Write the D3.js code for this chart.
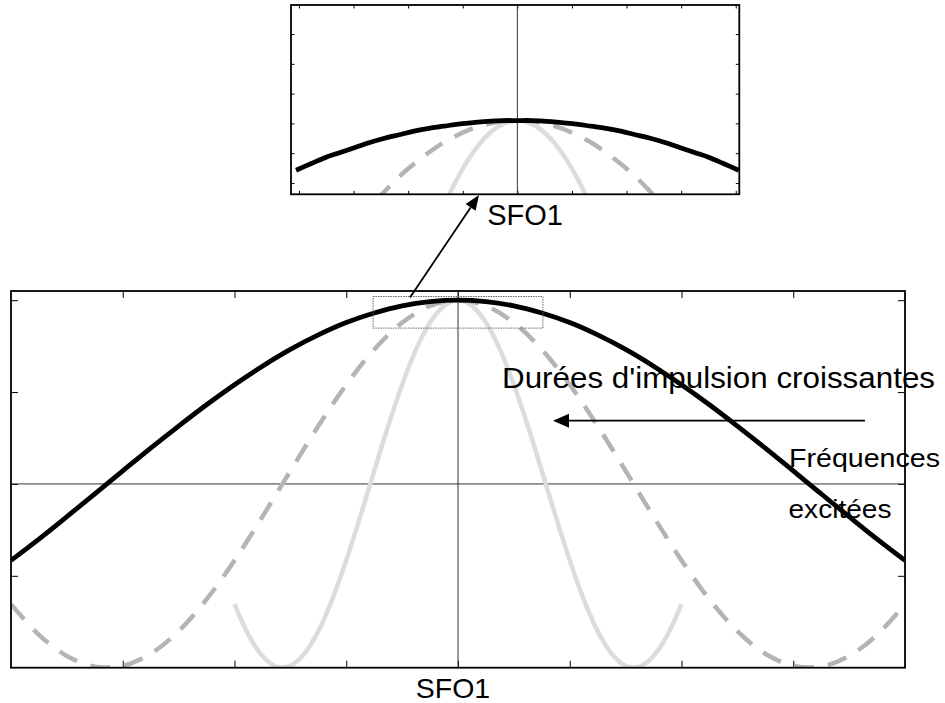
<!DOCTYPE html>
<html><head><meta charset="utf-8">
<script src="https://cdn.jsdelivr.net/npm/d3@7"></script>
<style>body{margin:0;background:#fff}svg{display:block}text{font-family:"Liberation Sans",Arial,sans-serif;fill:#000}</style>
</head><body>
<svg id="c" width="945" height="703"></svg>
<script>
// ---- main chart data (x in arbitrary frequency units around SFO1) ----
const mainX = [-4,-3.75,-3.5,-3.25,-3,-2.75,-2.5,-2.25,-2,-1.75,-1.5,-1.25,-1,-0.75,-0.5,-0.25,0,0.25,0.5,0.75,1,1.25,1.5,1.75,2,2.25,2.5,2.75,3,3.25,3.5,3.75,4];
const shortPulse = [-0.416,-0.300,-0.178,-0.054,0.071,0.195,0.315,0.431,0.540,0.641,0.732,0.811,0.878,0.930,0.969,0.992,1,0.992,0.969,0.930,0.878,0.811,0.732,0.641,0.540,0.431,0.315,0.195,0.071,-0.054,-0.178,-0.300,-0.416];
const mediumPulse = [-0.654,-0.821,-0.936,-0.994,-0.990,-0.924,-0.801,-0.628,-0.416,-0.178,0.071,0.315,0.540,0.732,0.878,0.969,1,0.969,0.878,0.732,0.540,0.315,0.071,-0.178,-0.416,-0.628,-0.801,-0.924,-0.990,-0.994,-0.936,-0.821,-0.654];
const longX = [-2,-1.875,-1.75,-1.625,-1.5,-1.375,-1.25,-1.125,-1,-0.875,-0.75,-0.625,-0.5,-0.375,-0.25,-0.125,0,0.125,0.25,0.375,0.5,0.625,0.75,0.875,1,1.125,1.25,1.375,1.5,1.625,1.75,1.875,2];
const longPulse = [-0.654,-0.821,-0.936,-0.994,-0.990,-0.924,-0.801,-0.628,-0.416,-0.178,0.071,0.315,0.540,0.732,0.878,0.969,1,0.969,0.878,0.732,0.540,0.315,0.071,-0.178,-0.416,-0.628,-0.801,-0.924,-0.990,-0.994,-0.936,-0.821,-0.654];
const mainXTicks = [-3,-2,-1,0,1,2,3];
const mainYTicks = [-0.5,0,0.5,1];
const zoomBox = {x0:-0.76, x1:0.76, y0:0.848, y1:1.02};

// ---- inset (zoom on the top) data ----
const insetX = [-0.75,-0.7,-0.65,-0.6,-0.55,-0.5,-0.45,-0.4,-0.35,-0.3,-0.25,-0.2,-0.15,-0.1,-0.05,0,0.05,0.1,0.15,0.2,0.25,0.3,0.35,0.4,0.45,0.5,0.55,0.6,0.65,0.7,0.75];
const insetShort = [0.930,0.939,0.948,0.955,0.962,0.969,0.975,0.980,0.985,0.989,0.992,0.995,0.997,0.999,1.000,1,1.000,0.999,0.997,0.995,0.992,0.989,0.985,0.980,0.975,0.969,0.962,0.955,0.948,0.939,0.930];
const insetMedium = [0.732,0.765,0.796,0.825,0.853,0.878,0.900,0.921,0.939,0.955,0.969,0.980,0.989,0.995,0.999,1,0.999,0.995,0.989,0.980,0.969,0.955,0.939,0.921,0.900,0.878,0.853,0.825,0.796,0.765,0.732];
const insetLongX = [-0.35,-0.3,-0.25,-0.2,-0.15,-0.1,-0.05,0,0.05,0.1,0.15,0.2,0.25,0.3,0.35];
const insetLong = [0.765,0.825,0.878,0.921,0.955,0.980,0.995,1,0.995,0.980,0.955,0.921,0.878,0.825,0.765];
const insetXTicks = [-0.74,-0.555,-0.37,-0.185,0,0.185,0.37,0.555,0.74];
const insetYTicks = [0.912,0.954,0.996,1.038,1.08,1.122];

const labels = {sfo:"SFO1", durees:"Durées d'impulsion croissantes", freq:"Fréquences", exc:"excitées"};

const svg = d3.select("#c");
const defs = svg.append("defs");

function drawPanel(g, x, y, xt, yt, idc, tick) {
  const [x0,x1] = x.range(), [y0,y1] = y.range();
  // inward ticks on all four sides
  g.append("g").attr("transform",`translate(0,${y0})`)
    .call(d3.axisBottom(x).tickValues(xt).tickSize(-tick).tickSizeOuter(0).tickFormat(""));
  g.append("g").attr("transform",`translate(0,${y1})`)
    .call(d3.axisTop(x).tickValues(xt).tickSize(-tick).tickSizeOuter(0).tickFormat(""));
  g.append("g").attr("transform",`translate(${x0},0)`)
    .call(d3.axisLeft(y).tickValues(yt).tickSize(-tick).tickSizeOuter(0).tickFormat(""));
  g.append("g").attr("transform",`translate(${x1},0)`)
    .call(d3.axisRight(y).tickValues(yt).tickSize(-tick).tickSizeOuter(0).tickFormat(""));
  g.selectAll(".domain").remove();
  g.selectAll(".tick line").attr("stroke","#000").attr("stroke-width",1);
  defs.append("clipPath").attr("id",idc).append("rect")
    .attr("x",x0).attr("y",y1).attr("width",x1-x0).attr("height",y0-y1);
}

function curve(g, xs, ys, x, y, style, clip) {
  const line = d3.line().x((d,i)=>x(xs[i])).y(d=>y(d)).curve(d3.curveCatmullRom);
  const p = g.append("path").attr("d", line(ys)).attr("fill","none")
    .attr("stroke",style.c).attr("stroke-width",style.w).attr("stroke-linecap","butt");
  if (style.dash) p.attr("stroke-dasharray",style.dash);
  if (clip) p.attr("clip-path",`url(#${clip})`);
}

// ---------- main chart ----------
const mx = d3.scaleLinear().domain([-4,4]).range([11,905]);
const my = d3.scaleLinear().domain([-1,1.05]).range([667.7,291]);
const gm = svg.append("g");
drawPanel(gm, mx, my, mainXTicks, mainYTicks, "clipMain", 7);
// zero lines
gm.append("line").attr("x1",mx(0)).attr("x2",mx(0)).attr("y1",my.range()[1]).attr("y2",my.range()[0]).attr("stroke","#333").attr("stroke-width",1);
gm.append("line").attr("x1",mx.range()[0]).attr("x2",mx.range()[1]).attr("y1",my(0)).attr("y2",my(0)).attr("stroke","#333").attr("stroke-width",1);
curve(gm, longX, longPulse, mx, my, {c:"#dcdcdc", w:4.5}, "clipMain");
curve(gm, mainX, mediumPulse, mx, my, {c:"#b4b4b4", w:4.5, dash:"20,14"}, "clipMain");
curve(gm, mainX, shortPulse, mx, my, {c:"#000", w:4.8}, "clipMain");
// zoomed region rectangle
gm.append("rect").attr("x",mx(zoomBox.x0)).attr("y",my(zoomBox.y1))
  .attr("width",mx(zoomBox.x1)-mx(zoomBox.x0)).attr("height",my(zoomBox.y0)-my(zoomBox.y1))
  .attr("fill","none").attr("stroke","#666").attr("stroke-width",1).attr("stroke-dasharray","1.5,1");
gm.append("rect").attr("x",11).attr("y",291).attr("width",894).attr("height",376.7)
  .attr("fill","none").attr("stroke","#000").attr("stroke-width",1.8);

// ---------- inset ----------
const ix = d3.scaleLinear().domain([-0.767,0.752]).range([291,739.3]);
const iy = d3.scaleLinear().domain([0.896,1.163]).range([194.3,5]);
const gi = svg.append("g");
drawPanel(gi, ix, iy, insetXTicks, insetYTicks, "clipInset", 3.5);
gi.append("line").attr("x1",ix(0)).attr("x2",ix(0)).attr("y1",5).attr("y2",194.3).attr("stroke","#333").attr("stroke-width",1);
curve(gi, insetLongX, insetLong, ix, iy, {c:"#dcdcdc", w:4.5}, "clipInset");
curve(gi, insetX, insetMedium, ix, iy, {c:"#b4b4b4", w:4.5, dash:"20,14"}, "clipInset");
curve(gi, insetX, insetShort, ix, iy, {c:"#000", w:4.8}, "clipInset");
gi.append("rect").attr("x",291).attr("y",5).attr("width",448.3).attr("height",189.3)
  .attr("fill","none").attr("stroke","#000").attr("stroke-width",1.8);

// ---------- annotations ----------
function arrow(x1,y1,x2,y2,hl,hw){
  const a = Math.atan2(y2-y1,x2-x1);
  const bx = x2 - hl*Math.cos(a), by = y2 - hl*Math.sin(a);
  svg.append("line").attr("x1",x1).attr("y1",y1).attr("x2",bx).attr("y2",by).attr("stroke","#000").attr("stroke-width",1.8);
  const px = -Math.sin(a)*hw/2, py = Math.cos(a)*hw/2;
  svg.append("path").attr("d",`M${x2},${y2}L${bx+px},${by+py}L${bx-px},${by-py}Z`).attr("fill","#000");
}
arrow(410,297.5,479,195,15,12);
arrow(865,420.7,553,420.7,16,14);

svg.append("text").attr("x",525).attr("y",225).attr("text-anchor","middle").attr("font-size",29).text(labels.sfo);
svg.append("text").attr("x",453).attr("y",698).attr("text-anchor","middle").attr("font-size",28.5).text(labels.sfo);
svg.append("text").attr("x",502).attr("y",388).attr("font-size",29.5).attr("textLength",433).attr("lengthAdjust","spacingAndGlyphs").text(labels.durees);
svg.append("text").attr("x",789).attr("y",467).attr("font-size",26).attr("textLength",151).attr("lengthAdjust","spacingAndGlyphs").text(labels.freq);
svg.append("text").attr("x",788.5).attr("y",518).attr("font-size",26).attr("textLength",103).attr("lengthAdjust","spacingAndGlyphs").text(labels.exc);
</script>
</body></html>
